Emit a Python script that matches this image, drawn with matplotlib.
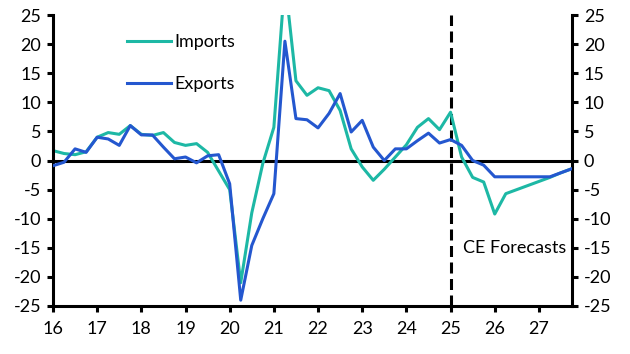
import matplotlib
matplotlib.use("Agg")
import matplotlib.pyplot as plt
import numpy as np

plt.rcParams['font.family'] = ['Lato', 'DejaVu Sans']
plt.rcParams['axes.unicode_minus'] = False

# quarterly, 2016 Q1 .. 2027 Q4 (x in years, '16' = 2016)
quarters = [16 + i * 0.25 for i in range(48)]

imports = [1.7, 1.2, 1.0, 1.5, 4.0, 4.8, 4.5, 6.0, 4.5, 4.3, 4.8, 3.1,
           2.6, 2.9, 1.4, -1.8, -5.0, -21.0, -9.0, -0.5, 5.7, 31.0, 13.7, 11.2,
           12.5, 12.0, 8.6, 2.0, -1.1, -3.4, -1.5, 0.6, 2.7, 5.7, 7.2, 5.3,
           8.3, 0.6, -2.9, -3.7, -9.2, -5.7, -5.0, -4.3, -3.6, -2.9, -2.1, -1.4]

exports = [-0.9, -0.3, 2.0, 1.4, 4.0, 3.7, 2.6, 6.0, 4.4, 4.4, 2.3, 0.3,
           0.6, -0.4, 0.8, 1.0, -4.0, -24.0, -14.6, -10.0, -5.7, 20.5, 7.2, 7.0,
           5.6, 8.1, 11.5, 4.9, 6.9, 2.3, 0.0, 2.0, 2.0, 3.4, 4.7, 3.0,
           3.6, 2.6, 0.0, -0.8, -2.8, -2.8, -2.8, -2.8, -2.8, -2.8, -2.1, -1.4]

year_ticks = list(range(16, 28))
y_ticks = list(range(-25, 30, 5))

teal = "#1db8a5"
blue = "#2457cf"
fs = 13

fig = plt.figure(figsize=(6.3, 3.54), dpi=100)
ax = fig.add_axes([0.0841, 0.1356, 0.8239, 0.822])

ax.axhline(0, color="black", lw=2.2, zorder=1)
ax.axvline(25, color="black", lw=2.2, ls=(0, (3.6, 1.8)), zorder=1)

ax.plot(quarters, imports, color=teal, lw=2.2, label="Imports", zorder=2)
ax.plot(quarters, exports, color=blue, lw=2.2, label="Exports", zorder=3)

ax.set_xlim(16, 27.75)
ax.set_ylim(-25, 25)
ax.set_xticks(year_ticks)
ax.set_xticklabels([str(y) for y in year_ticks])
ax.set_yticks(y_ticks)

ax.spines['top'].set_visible(False)
for s in ['left', 'right', 'bottom']:
    ax.spines[s].set_linewidth(2.2)
ax.tick_params(axis='both', direction='out', length=4.5, width=2.2,
               labelsize=fs, colors='black')
ax.tick_params(axis='y', right=True, labelright=True, pad=4)
ax.tick_params(axis='x', pad=6)

ax.text(27.62, -15.1, "CE Forecasts", ha="right", va="center", fontsize=fs)

leg = ax.legend(loc="upper left", bbox_to_anchor=(0.112, 0.99), frameon=False,
                fontsize=fs, handlelength=2.4, handletextpad=0.2,
                labelspacing=1.45)

fig.savefig("out.png", dpi=100)
